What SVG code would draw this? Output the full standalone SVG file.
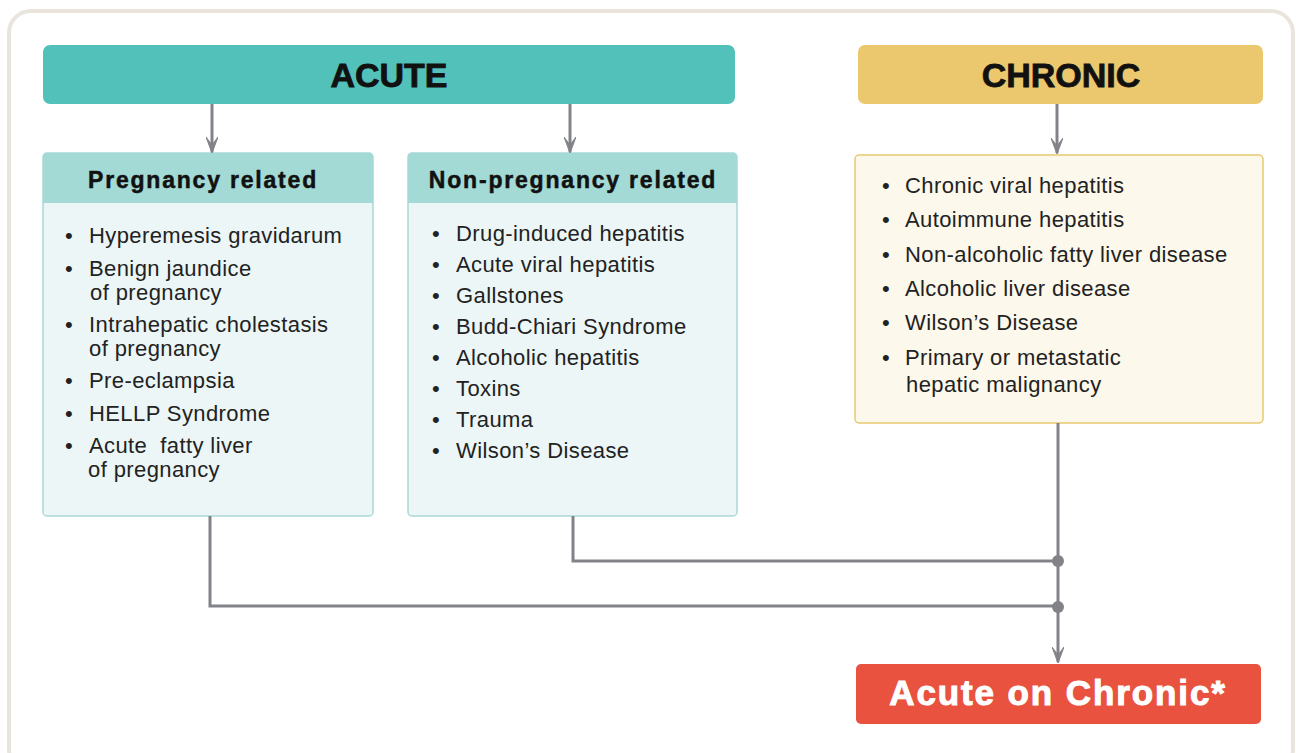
<svg xmlns="http://www.w3.org/2000/svg" width="1296" height="753" viewBox="0 0 1296 753">
<defs>
<style>
.hdr{font-family:"Liberation Sans",Arial,sans-serif;font-weight:bold;fill:#111;text-anchor:middle}
.big{font-size:34px;stroke:#111;stroke-width:0.8}
.sub{font-size:23px;letter-spacing:1.8px;stroke:#111;stroke-width:0.5}
.li{font-family:"Liberation Sans",Arial,sans-serif;font-size:22px;fill:#222;letter-spacing:0.4px}
.con{fill:none;stroke:#818389;stroke-width:3}
</style>
<marker id="ah" viewBox="0 0 16 12" refX="15" refY="6" markerWidth="16" markerHeight="12" markerUnits="userSpaceOnUse" orient="auto">
<path d="M0,0 L8,6 L0,12 L16,6 Z" fill="#818389" stroke="#818389" stroke-width="1" stroke-linejoin="round"/>
</marker>
</defs>
<rect x="0" y="0" width="1296" height="753" fill="#ffffff"/>
<rect x="9" y="11" width="1284" height="760" rx="22" fill="#ffffff" stroke="#e9e5dd" stroke-width="4"/>

<g id="acute">
<rect x="43" y="45" width="692" height="59" rx="7" fill="#52c1ba"/>
<text class="hdr big" x="389" y="87">ACUTE</text>
</g>
<g id="chronic">
<rect x="858" y="45" width="405" height="59" rx="7" fill="#ebc86d"/>
<text class="hdr big" x="1061" y="87">CHRONIC</text>
</g>

<g id="pregnancy">
<rect x="43" y="153" width="330" height="363" rx="4" fill="#ecf6f6" stroke="#a9d9d5" stroke-width="1.5"/>
<path d="M43,203 V157 a4,4 0 0 1 4,-4 H369 a4,4 0 0 1 4,4 V203 Z" fill="#a3dad5"/>
<text class="hdr sub" x="203" y="188">Pregnancy related</text>
<g class="li">
<text x="65" y="243">•</text><text x="89" y="243">Hyperemesis gravidarum</text>
<text x="65" y="276">•</text><text x="89" y="276">Benign jaundice</text>
<text x="90" y="300">of pregnancy</text>
<text x="65" y="332">•</text><text x="89" y="332">Intrahepatic cholestasis</text>
<text x="89" y="356">of pregnancy</text>
<text x="65" y="388">•</text><text x="89" y="388">Pre-eclampsia</text>
<text x="65" y="421">•</text><text x="89" y="421">HELLP Syndrome</text>
<text x="65" y="453">•</text><text x="89" y="453">Acute&#160; fatty liver</text>
<text x="88" y="477">of pregnancy</text>
</g>
</g>

<g id="nonpregnancy">
<rect x="408" y="153" width="329" height="363" rx="4" fill="#ecf6f6" stroke="#a9d9d5" stroke-width="1.5"/>
<path d="M408,203 V157 a4,4 0 0 1 4,-4 H733 a4,4 0 0 1 4,4 V203 Z" fill="#a3dad5"/>
<text class="hdr sub" x="573" y="188">Non-pregnancy related</text>
<g class="li">
<text x="432" y="241">•</text><text x="456" y="241">Drug-induced hepatitis</text>
<text x="432" y="272">•</text><text x="456" y="272">Acute viral hepatitis</text>
<text x="432" y="303">•</text><text x="456" y="303">Gallstones</text>
<text x="432" y="334">•</text><text x="456" y="334">Budd-Chiari Syndrome</text>
<text x="432" y="365">•</text><text x="456" y="365">Alcoholic hepatitis</text>
<text x="432" y="396">•</text><text x="456" y="396">Toxins</text>
<text x="432" y="427">•</text><text x="456" y="427">Trauma</text>
<text x="432" y="458">•</text><text x="456" y="458">Wilson’s Disease</text>
</g>
</g>

<g id="chroniclist">
<rect x="855" y="155" width="408" height="268" rx="4" fill="#fcf8eb" stroke="#e7c96f" stroke-width="1.5"/>
<g class="li">
<text x="882" y="193">•</text><text x="905" y="193">Chronic viral hepatitis</text>
<text x="882" y="227">•</text><text x="905" y="227">Autoimmune hepatitis</text>
<text x="882" y="262">•</text><text x="905" y="262">Non-alcoholic fatty liver disease</text>
<text x="882" y="296">•</text><text x="905" y="296">Alcoholic liver disease</text>
<text x="882" y="330">•</text><text x="905" y="330">Wilson’s Disease</text>
<text x="882" y="365">•</text><text x="905" y="365">Primary or metastatic</text>
<text x="906" y="392">hepatic malignancy</text>
</g>
</g>

<g id="acuteonchronic">
<rect x="856" y="664" width="405" height="60" rx="5" fill="#e9523f"/>
<text class="hdr" x="1058" y="705" style="font-size:35px;fill:#fff;stroke:#fff;stroke-width:1;letter-spacing:1.9px">Acute on Chronic*</text>
</g>

<g id="connectors">
<line class="con" x1="212" y1="104" x2="212" y2="152" marker-end="url(#ah)"/>
<line class="con" x1="570" y1="104" x2="570" y2="152" marker-end="url(#ah)"/>
<line class="con" x1="1057" y1="104" x2="1057" y2="153" marker-end="url(#ah)"/>
<path class="con" d="M210,516 V606 H1058"/>
<path class="con" d="M573,516 V561 H1058"/>
<line class="con" x1="1058" y1="423" x2="1058" y2="662" marker-end="url(#ah)"/>
<circle cx="1058" cy="561" r="6" fill="#818389"/>
<circle cx="1058" cy="607" r="6" fill="#818389"/>
</g>
</svg>
